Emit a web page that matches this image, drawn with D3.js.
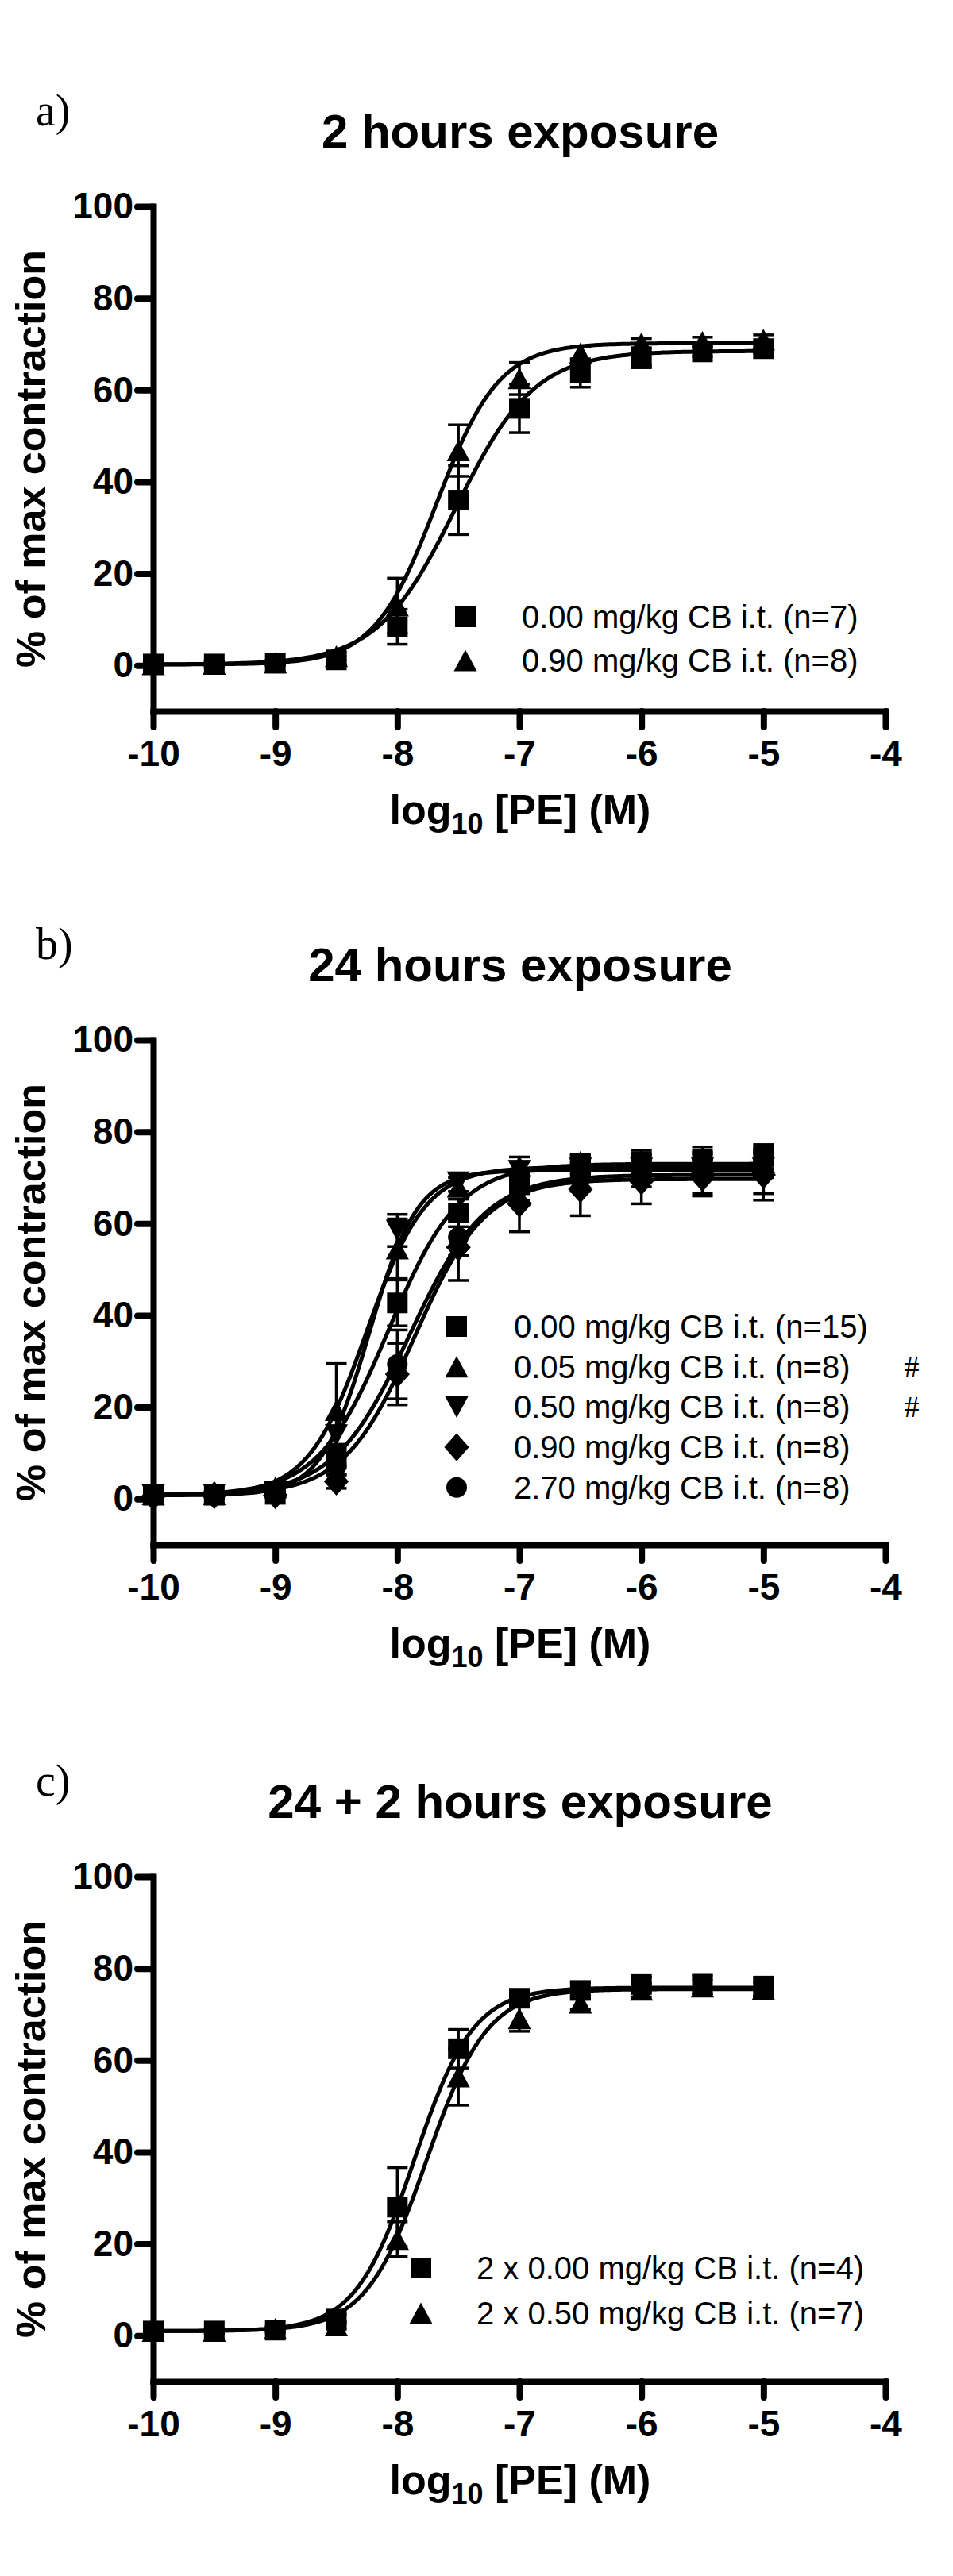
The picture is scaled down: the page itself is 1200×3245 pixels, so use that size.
<!DOCTYPE html>
<html>
<head>
<meta charset="utf-8">
<script src="https://cdn.jsdelivr.net/npm/d3@7"></script>
<style>
  body { margin: 0; background: #fff; }
  svg { display: block; }
</style>
</head>
<body>
<div id="chart"></div>
<script>
// log10 [PE] doses, shared by all three panels
var doses = [-10, -9.5, -9, -8.5, -8, -7.5, -7, -6.5, -6, -5.5, -5];
var xTicks = [-10, -9, -8, -7, -6, -5, -4];
var yTicks = [0, 20, 40, 60, 80, 100];

var panelLetters = ["a)", "b)", "c)"];
var panelTitles = ["2 hours exposure", "24 hours exposure", "24 + 2 hours exposure"];

// panel a
var aLabels = ["0.00 mg/kg CB i.t. (n=7)", "0.90 mg/kg CB i.t. (n=8)"];
var aShapes = ["square", "triangle"];
var aMean0 = [0.3, 0.3, 0.5, 1.2, 8.4, 36, 56, 63.7, 66.8, 68.3, 69];
var aSem0  = [0.5, 0.5, 0.5, 0.8, 3.8, 7.5, 5.3, 3.1, 1.5, 1, 1];
var aMean1 = [0.2, 0.3, 0.6, 2, 13, 46.8, 62.5, 68, 70.2, 70.5, 71];
var aSem1  = [0.5, 0.5, 0.5, 0.8, 6, 5.6, 3.5, 1.5, 1, 1, 1];
// fitted curves: [bottom, top, logEC50, hill slope]
var aFit0 = [0.2, 68.5, -7.52, 1.35];
var aFit1 = [0.2, 70.2, -7.68, 1.7];

// panel b
var bLabels = ["0.00 mg/kg CB i.t. (n=15)", "0.05 mg/kg CB i.t. (n=8)", "0.50 mg/kg CB i.t. (n=8)",
               "0.90 mg/kg CB i.t. (n=8)", "2.70 mg/kg CB i.t. (n=8)"];
var bShapes = ["square", "triangle", "down", "diamond", "circle"];
var bSig = ["", "#", "#", "", ""];
var bMean0 = [0.8, 0.8, 1, 9.2, 42.7, 62.3, 69, 72.9, 73.5, 74, 74.6];
var bSem0  = [0.5, 0.5, 0.5, 2.5, 5, 3, 2.5, 2, 2.5, 2.7, 2.6];
var bMean1 = [1, 1, 2.5, 19.3, 54.5, 68, 72.5, 73.5, 73, 73.2, 73.3];
var bSem1  = [0.5, 0.5, 0.8, 10.2, 6.5, 2, 2, 1.5, 2, 2, 2];
var bMean2 = [0.8, 1, 1.5, 13.9, 58.5, 69, 71.5, 72, 72, 72, 72];
var bSem2  = [0.5, 0.5, 0.5, 2, 3.5, 2, 2, 1.5, 2, 2, 2];
var bMean3 = [0.5, 0.8, 0.8, 3.8, 27.2, 54.8, 64.3, 67.5, 69.2, 70, 70.6];
var bSem3  = [0.5, 0.5, 0.5, 1.5, 6.7, 7.2, 6.1, 5.8, 4.9, 4, 5.5];
var bMean4 = [1, 1, 1.2, 7.2, 29.3, 57, 68, 70, 71, 71, 71];
var bSem4  = [0.5, 0.5, 0.5, 2, 7.5, 4, 3, 3, 3, 4.5, 4.5];
var bFit0 = [0.8, 73, -8.07, 1.5];
var bFit1 = [0.8, 72.3, -8.25, 1.8];
var bFit2 = [0.8, 71.6, -8.23, 2.2];
var bFit3 = [0.8, 69.7, -7.86, 1.5];
var bFit4 = [0.8, 70.6, -7.9, 1.4];

// panel c
var cLabels = ["2 x 0.00 mg/kg CB i.t. (n=4)", "2 x 0.50 mg/kg CB i.t. (n=7)"];
var cShapes = ["square", "triangle"];
var cMean0 = [1, 1, 1.2, 3.6, 28, 62.5, 73.5, 75.2, 76.5, 76.5, 75.8];
var cSem0  = [0.5, 0.5, 0.5, 1, 8.6, 4.2, 1.5, 1.8, 1.6, 2, 2.3];
var cMean1 = [1, 1, 1.5, 2.2, 21, 56.4, 69.1, 72.5, 75.3, 76, 75.5];
var cSem1  = [0.5, 0.5, 0.5, 0.8, 3.8, 6.2, 2.8, 1.5, 1.5, 1.5, 1.5];
var cFit0 = [1, 75.8, -7.86, 1.8];
var cFit1 = [1, 75.5, -7.76, 1.75];

var sans = '"Liberation Sans", Arial, Helvetica, sans-serif';
var serif = '"Liberation Serif", "Times New Roman", serif';

var width = 1200, height = 3245;

var svg = d3.select('#chart').append('svg')
    .attr('width', width)
    .attr('height', height);

svg.append('rect').attr('width', width).attr('height', height).attr('fill', '#fff');

// custom marker shapes (size = full width in px)
var shapeTypes = {
    square: { draw: function(c, s) { var h = s / 2; c.rect(-h, -h, s, s); } },
    circle: { draw: function(c, s) { c.moveTo(s / 2, 0); c.arc(0, 0, s / 2, 0, 2 * Math.PI); } },
    triangle: { draw: function(c, s) { var w = s * 0.56, h = s * 0.52; c.moveTo(0, -h); c.lineTo(w, h); c.lineTo(-w, h); c.closePath(); } },
    down: { draw: function(c, s) { var w = s * 0.56, h = s * 0.52; c.moveTo(0, h); c.lineTo(w, -h); c.lineTo(-w, -h); c.closePath(); } },
    diamond: { draw: function(c, s) { var w = s * 0.6, h = s * 0.68; c.moveTo(0, -h); c.lineTo(w, 0); c.lineTo(0, h); c.lineTo(-w, 0); c.closePath(); } }
};

function hill(p, x) {
    return p[0] + (p[1] - p[0]) / (1 + Math.pow(10, (p[2] - x) * p[3]));
}

var panels = [
    { shift: 0, legendX: 586, textX: 657, legendY: 777, legendStep: 55, sig: null,
      series: [ { mean: aMean0, sem: aSem0, fit: aFit0, shape: aShapes[0], label: aLabels[0] },
                { mean: aMean1, sem: aSem1, fit: aFit1, shape: aShapes[1], label: aLabels[1] } ] },
    { shift: 1050, legendX: 575, textX: 647, legendY: 1671, legendStep: 50.7, sig: bSig,
      series: [ { mean: bMean0, sem: bSem0, fit: bFit0, shape: bShapes[0], label: bLabels[0] },
                { mean: bMean1, sem: bSem1, fit: bFit1, shape: bShapes[1], label: bLabels[1] },
                { mean: bMean2, sem: bSem2, fit: bFit2, shape: bShapes[2], label: bLabels[2] },
                { mean: bMean3, sem: bSem3, fit: bFit3, shape: bShapes[3], label: bLabels[3] },
                { mean: bMean4, sem: bSem4, fit: bFit4, shape: bShapes[4], label: bLabels[4] } ] },
    { shift: 2104, legendX: 530, textX: 600, legendY: 2857, legendStep: 57, sig: null,
      series: [ { mean: cMean0, sem: cSem0, fit: cFit0, shape: cShapes[0], label: cLabels[0] },
                { mean: cMean1, sem: cSem1, fit: cFit1, shape: cShapes[1], label: cLabels[1] } ] }
];

panels.forEach(function(p, i) { drawPanel(p, i); });

function drawPanel(p, i) {
    var s = p.shift;
    var g = svg.append('g');

    var x = d3.scaleLinear().domain([-10, -4]).range([193, 1115]);
    var y = d3.scaleLinear().domain([-10, 100]).range([896 + s, 260 + s]);

    // panel letter and title
    g.append('text')
        .attr('x', 45).attr('y', 158 + s)
        .style('font-family', serif).style('font-size', '56px')
        .text(panelLetters[i]);

    g.append('text')
        .attr('x', 655).attr('y', 186 + s)
        .attr('text-anchor', 'middle')
        .style('font-family', sans).style('font-size', '60px').style('font-weight', 'bold')
        .text(panelTitles[i]);

    // axes
    var yAxis = d3.axisLeft(y).tickValues(yTicks).tickSize(20).tickSizeOuter(0)
        .tickPadding(5).tickFormat(function(d) { return String(d); });
    var xAxis = d3.axisBottom(x).tickValues(xTicks).tickSize(20).tickSizeOuter(0)
        .tickPadding(16).tickFormat(function(d) { return String(d); });

    var ya = g.append('g').attr('transform', 'translate(' + x(-10) + ',0)').call(yAxis);
    var xa = g.append('g').attr('transform', 'translate(0,' + y(-10) + ')').call(xAxis);

    [ya, xa].forEach(function(a) {
        a.select('.domain').attr('stroke', '#000').attr('stroke-width', 8).attr('stroke-linecap', 'square');
        a.selectAll('.tick line').attr('stroke', '#000').attr('stroke-width', 8).attr('stroke-linecap', 'round');
        a.selectAll('.tick text')
            .attr('fill', '#000')
            .style('font-family', sans).style('font-size', '46px').style('font-weight', 'bold');
    });

    // axis titles
    g.append('text')
        .attr('transform', 'translate(57,' + (578 + s) + ') rotate(-90)')
        .attr('text-anchor', 'middle')
        .style('font-family', sans).style('font-size', '52px').style('font-weight', 'bold')
        .text('% of max contraction');

    var xl = g.append('text')
        .attr('x', 655).attr('y', 1038 + s)
        .attr('text-anchor', 'middle')
        .style('font-family', sans).style('font-size', '52px').style('font-weight', 'bold');
    xl.append('tspan').text('log');
    xl.append('tspan').attr('dy', 12).style('font-size', '36px').text('10');
    xl.append('tspan').attr('dy', -12).text(' [PE] (M)');

    // fitted curves
    var line = d3.line()
        .x(function(d) { return x(d[0]); })
        .y(function(d) { return y(d[1]); });
    var grid = d3.range(-10, -4.999, 0.02);

    g.append('g').selectAll('path')
        .data(p.series)
        .enter().append('path')
        .attr('d', function(ser) { return line(grid.map(function(v) { return [v, hill(ser.fit, v)]; })); })
        .attr('fill', 'none')
        .attr('stroke', '#000')
        .attr('stroke-width', 5);

    // error bars
    p.series.forEach(function(ser) {
        var eb = g.append('g').selectAll('g')
            .data(doses.map(function(d, k) { return { x: d, m: ser.mean[k], e: ser.sem[k] }; }))
            .enter().append('g')
            .attr('stroke', '#000').attr('stroke-width', 3.5);
        eb.append('line')
            .attr('x1', function(d) { return x(d.x); }).attr('x2', function(d) { return x(d.x); })
            .attr('y1', function(d) { return y(d.m - d.e); }).attr('y2', function(d) { return y(d.m + d.e); });
        eb.append('line')
            .attr('x1', function(d) { return x(d.x) - 13; }).attr('x2', function(d) { return x(d.x) + 13; })
            .attr('y1', function(d) { return y(d.m + d.e); }).attr('y2', function(d) { return y(d.m + d.e); });
        eb.append('line')
            .attr('x1', function(d) { return x(d.x) - 13; }).attr('x2', function(d) { return x(d.x) + 13; })
            .attr('y1', function(d) { return y(d.m - d.e); }).attr('y2', function(d) { return y(d.m - d.e); });
    });

    // markers
    p.series.forEach(function(ser) {
        var sym = d3.symbol().type(shapeTypes[ser.shape]).size(26);
        g.append('g').selectAll('path')
            .data(ser.mean)
            .enter().append('path')
            .attr('transform', function(d, k) { return 'translate(' + x(doses[k]) + ',' + y(d) + ')'; })
            .attr('d', sym)
            .attr('fill', '#000');
    });

    // legend
    var leg = g.append('g').selectAll('g')
        .data(p.series)
        .enter().append('g')
        .attr('transform', function(d, k) { return 'translate(0,' + (p.legendY + k * p.legendStep) + ')'; });

    leg.append('path')
        .attr('transform', 'translate(' + p.legendX + ',0)')
        .attr('d', function(d) { return d3.symbol().type(shapeTypes[d.shape]).size(26)(); })
        .attr('fill', '#000');

    leg.append('text')
        .attr('x', p.textX).attr('y', 14)
        .style('font-family', sans).style('font-size', '40px')
        .text(function(d) { return d.label; });

    if (p.sig) {
        leg.append('text')
            .attr('x', 1148).attr('y', 13)
            .attr('text-anchor', 'middle')
            .style('font-family', serif).style('font-size', '38px')
            .text(function(d, k) { return p.sig[k]; });
    }
}
</script>
</body>
</html>
